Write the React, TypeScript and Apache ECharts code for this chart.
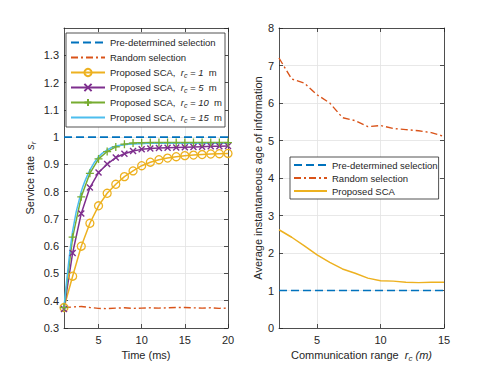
import React, { useEffect, useRef } from 'react';
import * as echarts from 'echarts';

// ---------- data ----------
const TIME_MS = [1, 2, 3, 4, 5, 6, 7, 8, 9, 10, 11, 12, 13, 14, 15, 16, 17, 18, 19, 20];
const SR_PREDETERMINED = [1, 1, 1, 1, 1, 1, 1, 1, 1, 1, 1, 1, 1, 1, 1, 1, 1, 1, 1, 1];
const SR_RANDOM = [0.375, 0.377, 0.379, 0.375, 0.372, 0.371, 0.373, 0.374, 0.372, 0.373, 0.374, 0.373, 0.374, 0.375, 0.375, 0.374, 0.373, 0.374, 0.372, 0.373];
const SR_RC1 = [0.375, 0.49, 0.6, 0.684, 0.748, 0.794, 0.827, 0.855, 0.876, 0.895, 0.908, 0.917, 0.923, 0.928, 0.932, 0.934, 0.936, 0.938, 0.939, 0.94];
const SR_RC5 = [0.37, 0.575, 0.72, 0.815, 0.87, 0.901, 0.925, 0.939, 0.949, 0.955, 0.958, 0.96, 0.961, 0.962, 0.963, 0.964, 0.965, 0.966, 0.966, 0.967];
const SR_RC10 = [0.375, 0.633, 0.781, 0.867, 0.92, 0.947, 0.964, 0.974, 0.978, 0.979, 0.98, 0.98, 0.98, 0.98, 0.98, 0.98, 0.98, 0.98, 0.98, 0.98];
const SR_RC15 = [0.375, 0.655, 0.8, 0.879, 0.928, 0.953, 0.967, 0.972, 0.975, 0.976, 0.977, 0.977, 0.977, 0.977, 0.977, 0.977, 0.977, 0.977, 0.977, 0.977];
const RC_VALUES = [1, 5, 10, 15];

const RANGE_M = [2, 3, 4, 5, 6, 7, 8, 9, 10, 11, 12, 13, 14, 15];
const AOI_PREDETERMINED = [1, 1, 1, 1, 1, 1, 1, 1, 1, 1, 1, 1, 1, 1];
const AOI_RANDOM = [7.2, 6.64, 6.53, 6.22, 6.0, 5.61, 5.53, 5.37, 5.4, 5.32, 5.29, 5.26, 5.21, 5.11];
const AOI_SCA = [2.62, 2.42, 2.19, 1.95, 1.75, 1.575, 1.46, 1.33, 1.26, 1.25, 1.22, 1.21, 1.22, 1.22];

const TIME_TICKS = [5, 10, 15, 20];
const RANGE_TICKS = [5, 10, 15];

// ---------- style ----------
const FONT = '"Liberation Sans", Arial, Helvetica, sans-serif';
const AX = '#262626';
const GRIDC = '#e2e2e2';
const BLUE = '#0072BD';
const RED = '#D95319';
const YEL = '#EDB120';
const PUR = '#7E2F8E';
const GRN = '#77AC30';
const CYN = '#4DBEEE';
const DASH = [8, 4];
const DASHDOT = [7, 3, 2, 3];
const NO_MARK = { color: 'rgba(0,0,0,0)', borderColor: 'rgba(0,0,0,0)', borderWidth: 0, opacity: 0 };

const richName = {
  i: { fontStyle: 'italic', fontSize: 11, color: AX, fontFamily: FONT },
  sub: { fontStyle: 'italic', fontSize: 8, color: AX, fontFamily: FONT, padding: [6, 0, 0, 0] },
};
const richLegend = {
  i: { fontStyle: 'italic', fontSize: 9.5, color: AX, fontFamily: FONT },
  sub: { fontStyle: 'italic', fontSize: 7, color: AX, fontFamily: FONT, padding: [5, 0, 0, 0] },
};

function xMain(gridIndex: number, min: number, max: number, ticks: number[], name: string) {
  return {
    type: 'value', gridIndex, min, max, minInterval: 5, maxInterval: 5, position: 'bottom',
    axisLine: { show: true, onZero: false, lineStyle: { color: AX, width: 0.8 } },
    axisTick: { show: true, inside: true, length: 4, customValues: ticks, lineStyle: { color: AX, width: 0.8 } },
    axisLabel: { customValues: ticks, color: AX, fontSize: 11, fontFamily: FONT, margin: 6 },
    splitLine: { show: true, lineStyle: { color: GRIDC, width: 0.8 } },
    name, nameLocation: 'middle', nameGap: 19,
    nameTextStyle: { color: AX, fontSize: 11, fontFamily: FONT, rich: richName },
  };
}
function xTop(gridIndex: number, min: number, max: number, ticks: number[]) {
  return {
    type: 'value', gridIndex, min, max, minInterval: 5, maxInterval: 5, position: 'top',
    axisLine: { show: true, onZero: false, lineStyle: { color: AX, width: 0.8 } },
    axisTick: { show: true, inside: true, length: 4, customValues: ticks, lineStyle: { color: AX, width: 0.8 } },
    axisLabel: { show: false },
    splitLine: { show: false },
  };
}
function yMain(gridIndex: number, min: number, max: number, interval: number, name: string, gap: number, showMax: boolean) {
  return {
    type: 'value', gridIndex, min, max, interval, position: 'left',
    axisLine: { show: true, onZero: false, lineStyle: { color: AX, width: 0.8 } },
    axisTick: { show: true, inside: true, length: 4, lineStyle: { color: AX, width: 0.8 } },
    axisLabel: { color: AX, fontSize: 11, fontFamily: FONT, margin: 5, showMaxLabel: showMax },
    splitLine: { show: true, lineStyle: { color: GRIDC, width: 0.8 } },
    name, nameLocation: 'middle', nameGap: gap, nameRotate: 90,
    nameTextStyle: { color: AX, fontSize: 11, fontFamily: FONT, rich: richName },
  };
}
function yRight(gridIndex: number, min: number, max: number, interval: number) {
  return {
    type: 'value', gridIndex, min, max, interval, position: 'right',
    axisLine: { show: true, onZero: false, lineStyle: { color: AX, width: 0.8 } },
    axisTick: { show: true, inside: true, length: 4, lineStyle: { color: AX, width: 0.8 } },
    axisLabel: { show: false },
    splitLine: { show: false },
  };
}

const pairs = (xs: number[], ys: number[]) => xs.map((x, i) => [x, ys[i]]);

const rcName = (v: number) => `Proposed SCA, rc=${v}`;
const rcSeriesStyle = [
  { color: YEL, symbol: 'circle', symbolSize: 8, itemStyle: { color: 'rgba(255,255,255,0)', borderColor: YEL, borderWidth: 1.3 } },
  { color: PUR, symbol: 'path://M0,0L10,10M10,0L0,10', symbolSize: 6, itemStyle: { color: 'rgba(255,255,255,0)', borderColor: PUR, borderWidth: 1.4 } },
  { color: GRN, symbol: 'path://M5,0L5,10M0,5L10,5', symbolSize: 8, itemStyle: { color: 'rgba(255,255,255,0)', borderColor: GRN, borderWidth: 1.3 } },
  { color: CYN, symbol: 'none', symbolSize: 0, itemStyle: { color: CYN } },
];
const RC_DATA = [SR_RC1, SR_RC5, SR_RC10, SR_RC15];

function buildOption() {
  const series: any[] = [
    {
      name: 'Pre-determined selection', type: 'line', xAxisIndex: 0, yAxisIndex: 0,
      data: pairs(TIME_MS, SR_PREDETERMINED), symbol: 'none', color: BLUE,
      lineStyle: { color: BLUE, width: 1.6, type: DASH }, itemStyle: { color: BLUE },
    },
    {
      name: 'Random selection', type: 'line', xAxisIndex: 0, yAxisIndex: 0,
      data: pairs(TIME_MS, SR_RANDOM), symbol: 'none', color: RED,
      lineStyle: { color: RED, width: 1.4, type: DASHDOT }, itemStyle: { color: RED },
    },
    ...RC_VALUES.map((v, k) => ({
      name: rcName(v), type: 'line', xAxisIndex: 0, yAxisIndex: 0,
      data: pairs(TIME_MS, RC_DATA[k]),
      color: rcSeriesStyle[k].color,
      symbol: rcSeriesStyle[k].symbol, symbolSize: rcSeriesStyle[k].symbolSize,
      showSymbol: rcSeriesStyle[k].symbol !== 'none',
      smooth: k === 3 ? 0.3 : false,
      lineStyle: { color: rcSeriesStyle[k].color, width: 1.5 },
      itemStyle: rcSeriesStyle[k].itemStyle,
    })),
    {
      name: 'Pre-determined selection', type: 'line', xAxisIndex: 2, yAxisIndex: 2,
      data: pairs(RANGE_M, AOI_PREDETERMINED), symbol: 'none', color: BLUE,
      lineStyle: { color: BLUE, width: 1.6, type: DASH }, itemStyle: { color: BLUE },
    },
    {
      name: 'Random selection', type: 'line', xAxisIndex: 2, yAxisIndex: 2,
      data: pairs(RANGE_M, AOI_RANDOM), symbol: 'none', color: RED,
      lineStyle: { color: RED, width: 1.4, type: DASHDOT }, itemStyle: { color: RED },
    },
    {
      name: 'Proposed SCA', type: 'line', xAxisIndex: 2, yAxisIndex: 2,
      data: pairs(RANGE_M, AOI_SCA), symbol: 'none', color: YEL,
      lineStyle: { color: YEL, width: 1.5 }, itemStyle: { color: YEL },
    },
  ];

  return {
    animation: false,
    backgroundColor: '#ffffff',
    grid: [
      { left: 64, right: 263, top: 28, bottom: 40, containLabel: false },
      { left: 279, right: 47, top: 28, bottom: 40, containLabel: false },
    ],
    xAxis: [
      xMain(0, 1, 20, TIME_TICKS, 'Time (ms)'),
      xTop(0, 1, 20, TIME_TICKS),
      xMain(1, 2, 15, RANGE_TICKS, 'Communication range  {i|r}{sub|c}{i| (m)}'),
      xTop(1, 2, 15, RANGE_TICKS),
    ],
    yAxis: [
      yMain(0, 0.3, 1.4, 0.1, 'Service rate  {i|s}{sub|r}', 27, false),
      yRight(0, 0.3, 1.4, 0.1),
      yMain(1, 0, 8, 1, 'Average instantaneous age of information', 15, true),
      yRight(1, 0, 8, 1),
    ],
    legend: [
      {
        data: [
          { name: 'Pre-determined selection', itemStyle: NO_MARK },
          { name: 'Random selection', itemStyle: NO_MARK },
          rcName(RC_VALUES[0]),
          rcName(RC_VALUES[1]),
          rcName(RC_VALUES[2]),
          { name: rcName(RC_VALUES[3]), itemStyle: NO_MARK },
        ],
        orient: 'vertical', left: 66, top: 33,
        itemWidth: 34, itemHeight: 9, itemGap: 2,
        padding: [3, 3, 3, 4],
        borderColor: AX, borderWidth: 0.8, backgroundColor: '#ffffff',
        textStyle: { color: AX, fontSize: 9.5, fontFamily: FONT, lineHeight: 13, rich: richLegend },
        formatter: (name: string) => {
          const m = name.match(/rc=(\d+)/);
          if (m) return `Proposed SCA,  {i|r}{sub|c}{i| = ${m[1]}}  m`;
          return name;
        },
      },
      {
        data: [
          { name: 'Pre-determined selection', itemStyle: NO_MARK },
          { name: 'Random selection', itemStyle: NO_MARK },
          { name: 'Proposed SCA', itemStyle: NO_MARK },
        ],
        orient: 'vertical', left: 290, top: 157,
        itemWidth: 33, itemHeight: 9, itemGap: 1,
        padding: [2, 1, 2, 3],
        borderColor: AX, borderWidth: 0.8, backgroundColor: '#ffffff',
        textStyle: { color: AX, fontSize: 9.5, fontFamily: FONT, lineHeight: 12 },
      },
    ],
    series,
  };
}

export default function App() {
  const ref = useRef<HTMLDivElement>(null);
  useEffect(() => {
    if (!ref.current) return;
    const chart = echarts.init(ref.current, null, { renderer: 'svg' });
    chart.setOption(buildOption() as any);
    return () => chart.dispose();
  }, []);
  return (
    <div
      ref={ref}
      style={{ position: 'fixed', left: 0, top: 0, width: 491, height: 368, background: '#fff' }}
    />
  );
}
